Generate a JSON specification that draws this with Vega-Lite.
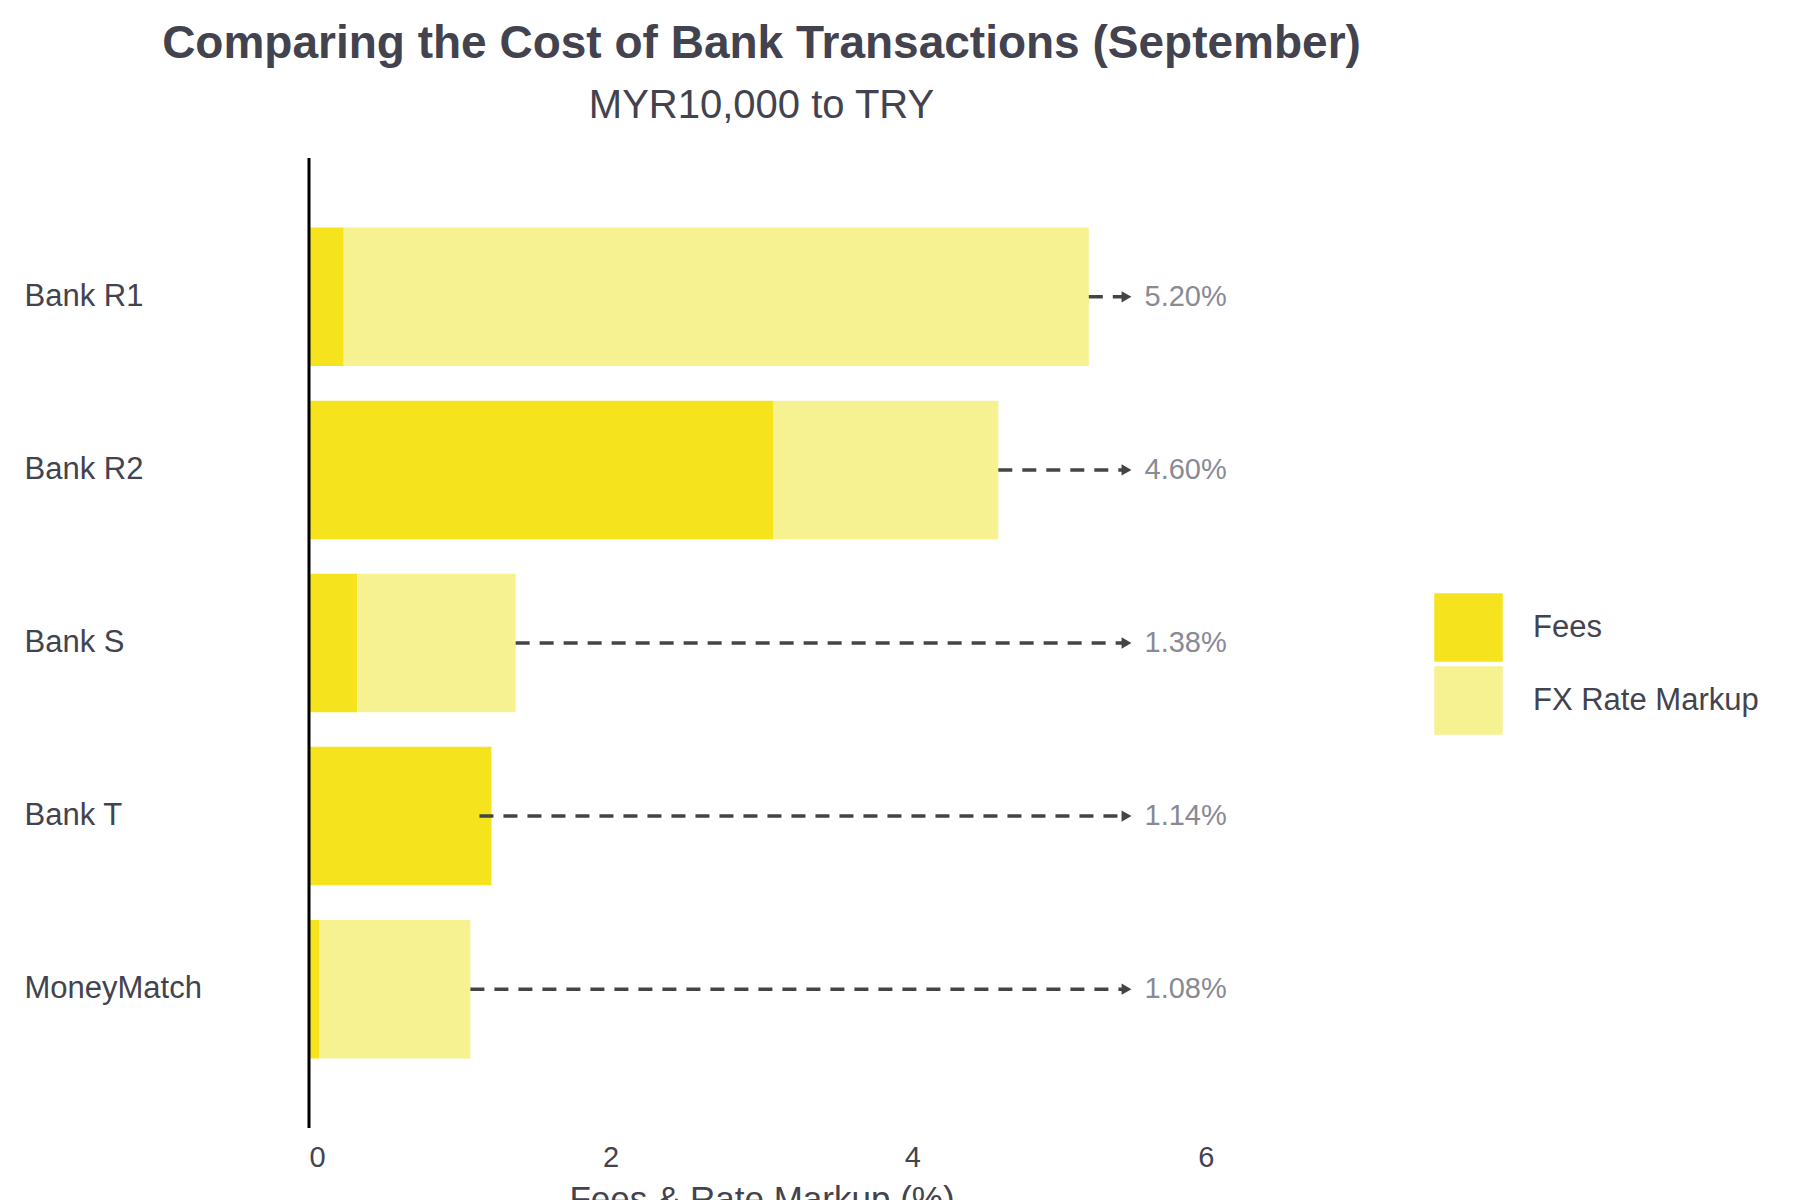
{
  "$schema": "https://vega.github.io/schema/vega-lite/v6.json",
  "width": 905,
  "height": 900,
  "padding": {"left": 24, "top": 20, "right": 40, "bottom": 20},
  "background": "white",
  "title": {
    "text": "Comparing the Cost of Bank Transactions (September)",
    "subtitle": "MYR10,000 to TRY",
    "font": "Liberation Sans",
    "fontSize": 46,
    "fontWeight": "bold",
    "color": "#43434f",
    "subtitleFont": "Liberation Sans",
    "subtitleFontSize": 40,
    "subtitleColor": "#43434f",
    "subtitlePadding": 18,
    "anchor": "middle",
    "offset": 30
  },
  "datasets": {
    "bars": [
      {"bank": "MoneyMatch", "type": "Fees", "k": 1, "value": 0.07},
      {"bank": "MoneyMatch", "type": "FX Rate Markup", "k": 2, "value": 1.0},
      {"bank": "Bank R1", "type": "Fees", "k": 1, "value": 0.23},
      {"bank": "Bank R1", "type": "FX Rate Markup", "k": 2, "value": 4.94},
      {"bank": "Bank R2", "type": "Fees", "k": 1, "value": 3.08},
      {"bank": "Bank R2", "type": "FX Rate Markup", "k": 2, "value": 1.49},
      {"bank": "Bank S", "type": "Fees", "k": 1, "value": 0.32},
      {"bank": "Bank S", "type": "FX Rate Markup", "k": 2, "value": 1.05},
      {"bank": "Bank T", "type": "Fees", "k": 1, "value": 1.21},
      {"bank": "Bank T", "type": "FX Rate Markup", "k": 2, "value": 0}
    ],
    "totals": [
      {"bank": "MoneyMatch", "start": 1.07, "end": 5.42, "label": "1.08%"},
      {"bank": "Bank R1", "start": 5.17, "end": 5.42, "label": "5.20%"},
      {"bank": "Bank R2", "start": 4.57, "end": 5.42, "label": "4.60%"},
      {"bank": "Bank S", "start": 1.37, "end": 5.42, "label": "1.38%"},
      {"bank": "Bank T", "start": 1.13, "end": 5.42, "label": "1.14%"}
    ]
  },
  "layer": [
    {
      "data": {"name": "bars"},
      "mark": {"type": "bar"},
      "encoding": {
        "y": {
          "field": "bank",
          "type": "nominal",
          "sort": ["MoneyMatch", "Bank R1", "Bank R2", "Bank S", "Bank T"],
          "scale": {"paddingInner": 0.2, "paddingOuter": 0.2},
          "axis": {"title": null, "ticks": false, "domain": false, "labelFontSize": 31, "labelColor": "#43434f", "labelFont": "Liberation Sans", "labelPadding": 285, "labelAlign": "left", "labelLimit": 300}
        },
        "x": {
          "field": "value",
          "type": "quantitative",
          "aggregate": "sum",
          "scale": {"domain": [0, 6]},
          "axis": {"title": "Fees & Rate Markup (%)", "values": [0, 2, 4, 6], "format": "d", "grid": false, "ticks": false, "domain": false, "labelFontSize": 29, "labelColor": "#43434f", "labelFont": "Liberation Sans", "titleFontSize": 35, "titleFontWeight": "normal", "titleColor": "#43434f", "titleFont": "Liberation Sans", "labelPadding": 50, "titlePadding": 10}
        },
        "color": {
          "field": "type",
          "type": "nominal",
          "scale": {"domain": ["Fees", "FX Rate Markup"], "range": ["#f5e31e", "#f6f292"]},
          "legend": {"title": null, "symbolType": "square", "symbolSize": 4700, "labelFontSize": 31, "labelColor": "#43434f", "labelFont": "Liberation Sans", "rowPadding": 4, "labelOffset": 30, "labelLimit": 400, "symbolStrokeWidth": 0, "orient": "none", "legendX": 1125, "legendY": 400, "padding": 0}
        },
        "order": {"field": "k", "type": "quantitative", "sort": "ascending"}
      }
    },
    {
      "data": {"name": "totals"},
      "mark": {"type": "rule", "strokeDash": [14, 10], "strokeWidth": 3.5, "color": "#444444"},
      "encoding": {"y": {"field": "bank", "type": "nominal"}, "x": {"field": "start", "type": "quantitative"}, "x2": {"field": "end"}}
    },
    {
      "data": {"name": "totals"},
      "mark": {"type": "point", "shape": "triangle-right", "filled": true, "size": 130, "color": "#444444", "opacity": 1},
      "encoding": {"y": {"field": "bank", "type": "nominal"}, "x": {"field": "end", "type": "quantitative"}}
    },
    {
      "data": {"name": "totals"},
      "mark": {"type": "text", "align": "left", "dx": 18, "fontSize": 29, "color": "#8a8a94", "font": "Liberation Sans"},
      "encoding": {"y": {"field": "bank", "type": "nominal"}, "x": {"field": "end", "type": "quantitative"}, "text": {"field": "label"}}
    },
    {
      "data": {"values": [{"x": 0}]},
      "mark": {"type": "rule", "color": "black", "strokeWidth": 3, "y": -35, "y2": {"expr": "height + 35"}},
      "encoding": {"x": {"field": "x", "type": "quantitative"}}
    }
  ],
  "config": {"view": {"stroke": null}}
}
